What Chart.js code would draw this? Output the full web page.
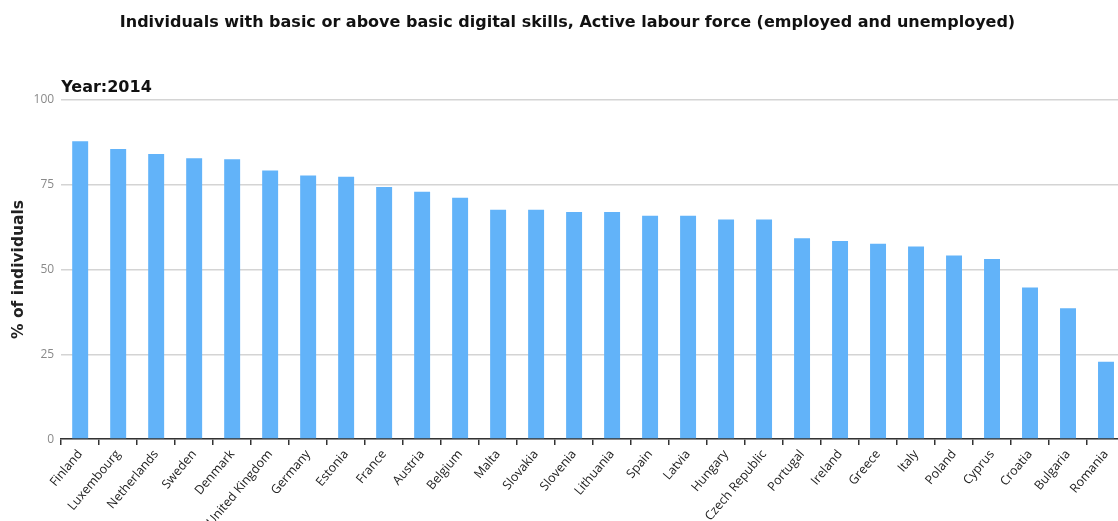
<!DOCTYPE html>
<html>
<head>
<meta charset="utf-8">
<script src="https://cdn.jsdelivr.net/npm/chart.js@4.4.1/dist/chart.umd.min.js"></script>
<style>
  html, body { margin: 0; padding: 0; background: #ffffff; overflow: hidden; }
  #wrap { position: relative; width: 1125px; height: 531px; }
</style>
</head>
<body>
<div id="wrap"><canvas id="c"></canvas></div>
<script>
const chartTitle = "Individuals with basic or above basic digital skills, Active labour force (employed and unemployed)";
const yearLabel = "Year:2014";
const yAxisTitle = "% of individuals";
const countries = ["Finland","Luxembourg","Netherlands","Sweden","Denmark","United Kingdom","Germany","Estonia","France","Austria","Belgium","Malta","Slovakia","Slovenia","Lithuania","Spain","Latvia","Hungary","Czech Republic","Portugal","Ireland","Greece","Italy","Poland","Cyprus","Croatia","Bulgaria","Romania"];
const values = [87.8,85.5,84.0,82.8,82.5,79.2,77.7,77.3,74.3,72.9,71.1,67.6,67.6,66.9,66.9,65.8,65.8,64.7,64.7,59.2,58.4,57.6,56.8,54.1,53.1,44.7,38.6,22.8];
const yTicks = [0,25,50,75,100];

new Chart(document.getElementById('c'), {
  type: 'bar',
  data: {
    labels: countries,
    datasets: [{
      data: values,
      backgroundColor: '#62b3f9',
      borderWidth: 0,
      barPercentage: 0.42,
      categoryPercentage: 1.0
    }]
  },
  options: {
    responsive: true,
    maintainAspectRatio: false,
    animation: false,
    devicePixelRatio: 1,
    layout: { padding: { left: 10, right: 0, top: 0, bottom: 0 } },
    plugins: {
      legend: { display: false },
      tooltip: { enabled: false },
      title: {
        display: true,
        text: chartTitle,
        color: '#111',
        font: { family: 'DejaVu Sans', size: 16, weight: 'bold' },
        padding: { top: 13, bottom: 0 }
      },
      subtitle: {
        display: true,
        text: yearLabel,
        align: 'start',
        fullSize: false,
        color: '#111',
        font: { family: 'DejaVu Sans', size: 16, weight: 'bold' },
        padding: { top: 46, bottom: 2.4 }
      }
    },
    scales: {
      x: {
        grid: { display: true, drawOnChartArea: false, drawTicks: true, tickLength: 6, color: '#333', lineWidth: 1.5, offset: true },
        border: { display: true, color: '#333', width: 1.5 },
        ticks: {
          autoSkip: false,
          maxRotation: 50,
          minRotation: 50,
          color: '#222',
          padding: 2,
          font: { family: 'Open Sans', size: 12.5 }
        }
      },
      y: {
        min: 0,
        max: 100,
        afterBuildTicks: (axis) => { axis.ticks = yTicks.map(v => ({ value: v })); },
        grid: { color: '#d4d4d4', lineWidth: 1.5, drawTicks: false },
        border: { display: false },
        ticks: {
          color: '#8a8a8a',
          padding: 7,
          font: { family: 'Open Sans', size: 12 }
        },
        title: {
          display: true,
          text: yAxisTitle,
          color: '#222',
          font: { family: 'DejaVu Sans', size: 15.5, weight: 'bold' },
          padding: { top: 0, bottom: -2 }
        }
      }
    }
  }
});
</script>
</body>
</html>
